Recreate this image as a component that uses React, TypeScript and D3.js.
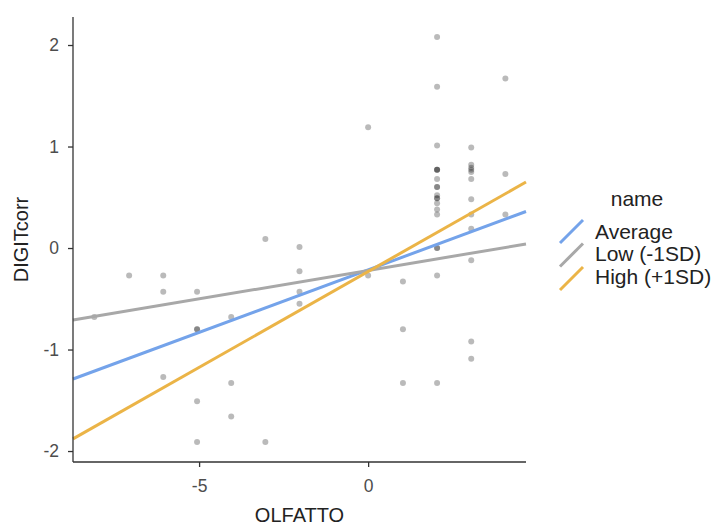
import React, { useEffect, useRef } from 'react';
import * as d3 from 'd3';

// scatter points: OLFATTO (centered) and DIGITcorr
const pointX = [
  -8.1,
  -7.07,
  -6.06, -6.06, -6.06,
  -5.06, -5.06, -5.06, -5.06, -5.06,
  -4.05, -4.05, -4.05,
  -3.04, -3.04,
  -2.03, -2.03, -2.03, -2.03,
  0.0, 0.0,
  1.03, 1.03, 1.03,
  2.04, 2.04, 2.04, 2.04, 2.04, 2.04, 2.04, 2.04, 2.04, 2.04, 2.04, 2.04, 2.04, 2.04, 2.04, 2.04, 2.04, 2.04, 2.04,
  3.05, 3.05, 3.05, 3.05, 3.05, 3.05, 3.05, 3.05, 3.05, 3.05, 3.05, 3.05,
  4.06, 4.06, 4.06,
];
const pointY = [
  -0.68,
  -0.27,
  -0.27, -0.43, -1.27,
  -0.43, -0.8, -0.8, -1.51, -1.91,
  -0.68, -1.33, -1.66,
  0.09, -1.91,
  0.01, -0.23, -0.43, -0.55,
  1.19, -0.27,
  -0.33, -0.8, -1.33,
  2.08, 1.59, 1.01, 0.77, 0.77, 0.77, 0.68, 0.6, 0.6, 0.52, 0.49, 0.49, 0.44, 0.38, 0.33, 0.0, 0.0, -0.27, -1.33,
  0.99, 0.82, 0.79, 0.75, 0.68, 0.48, 0.33, 0.19, -0.12, -0.92, -1.09, 0.77,
  1.67, 0.73, 0.33,
];

// simple slopes at the panel edges
const lineNames = ['Average', 'Low (-1SD)', 'High (+1SD)'];
const lineColors = ['#74a3ea', '#a8a8a8', '#ebb447'];
const lineEndX = [-8.73, 4.67];
const averageY = [-1.29, 0.36];
const lowY = [-0.71, 0.04];
const highY = [-1.88, 0.65];

const xTicks = [-5, 0];
const yTicks = [-2, -1, 0, 1, 2];

const App = () => {
  const ref = useRef<SVGSVGElement>(null);

  useEffect(() => {
    const svg = d3.select(ref.current);
    svg.selectAll('*').remove();

    const panel = { left: 73, right: 526, top: 17, bottom: 462 };
    const font = 'Liberation Sans, Arial, sans-serif';

    const x = d3.scaleLinear().domain([-8.73, 4.67]).range([panel.left, panel.right]);
    const y = d3.scaleLinear().domain([-2.108, 2.276]).range([panel.bottom, panel.top]);

    // points
    svg.append('g')
      .selectAll('circle')
      .data(pointX.map((d, i) => [d, pointY[i]]))
      .enter()
      .append('circle')
      .attr('cx', d => x(d[0]))
      .attr('cy', d => y(d[1]))
      .attr('r', 3)
      .attr('fill', '#000')
      .attr('fill-opacity', 0.27);

    // regression lines
    const series = [averageY, lowY, highY];
    const line = d3.line<[number, number]>().x(d => x(d[0])).y(d => y(d[1]));
    series.forEach((ys, i) => {
      svg.append('path')
        .attr('d', line(lineEndX.map((d, j) => [d, ys[j]] as [number, number])))
        .attr('fill', 'none')
        .attr('stroke', lineColors[i])
        .attr('stroke-width', 3);
    });

    // axes
    const xAxis = d3.axisBottom(x).tickValues(xTicks).tickSize(5).tickPadding(13).tickFormat(d => String(d));
    const yAxis = d3.axisLeft(y).tickValues(yTicks).tickSize(5).tickPadding(9).tickFormat(d => String(d));

    const gx = svg.append('g').attr('transform', `translate(0,${panel.bottom})`).call(xAxis);
    const gy = svg.append('g').attr('transform', `translate(${panel.left},0)`).call(yAxis);
    [gx, gy].forEach(g => {
      g.select('.domain').remove();
      g.selectAll('line').attr('stroke', '#333').attr('stroke-width', 1.3);
      g.selectAll('text').attr('fill', '#4d4d4d').style('font-family', font).style('font-size', '17.5px');
    });
    svg.append('line')
      .attr('x1', panel.left).attr('x2', panel.right)
      .attr('y1', panel.bottom).attr('y2', panel.bottom)
      .attr('stroke', '#333').attr('stroke-width', 1.3);
    svg.append('line')
      .attr('x1', panel.left).attr('x2', panel.left)
      .attr('y1', panel.top).attr('y2', panel.bottom)
      .attr('stroke', '#333').attr('stroke-width', 1.3);

    // axis titles
    svg.append('text')
      .attr('x', (panel.left + panel.right) / 2)
      .attr('y', 521.5)
      .attr('text-anchor', 'middle')
      .attr('fill', '#222')
      .style('font-family', font)
      .style('font-size', '20px')
      .text('OLFATTO');
    svg.append('text')
      .attr('transform', `translate(28.3,${(panel.top + panel.bottom) / 2}) rotate(-90)`)
      .attr('text-anchor', 'middle')
      .attr('fill', '#222')
      .style('font-family', font)
      .style('font-size', '20px')
      .text('DIGITcorr');

    // legend
    const legend = svg.append('g');
    legend.append('text')
      .attr('x', 637)
      .attr('y', 206)
      .attr('text-anchor', 'middle')
      .attr('fill', '#222')
      .style('font-family', font)
      .style('font-size', '21px')
      .text('name');
    lineNames.forEach((name, i) => {
      const top = 220 + i * 23.5;
      legend.append('line')
        .attr('x1', 560).attr('y1', top + 23)
        .attr('x2', 583).attr('y2', top)
        .attr('stroke', lineColors[i])
        .attr('stroke-width', 3);
      legend.append('text')
        .attr('x', 595)
        .attr('y', 238.5 + i * 22.6)
        .attr('fill', '#222')
        .style('font-family', font)
        .style('font-size', '21px')
        .text(name);
    });
  }, []);

  return (
    <svg
      ref={ref}
      width={717}
      height={525}
      style={{ position: 'absolute', left: 0, top: 0, background: '#fff' }}
    />
  );
};

export default App;
